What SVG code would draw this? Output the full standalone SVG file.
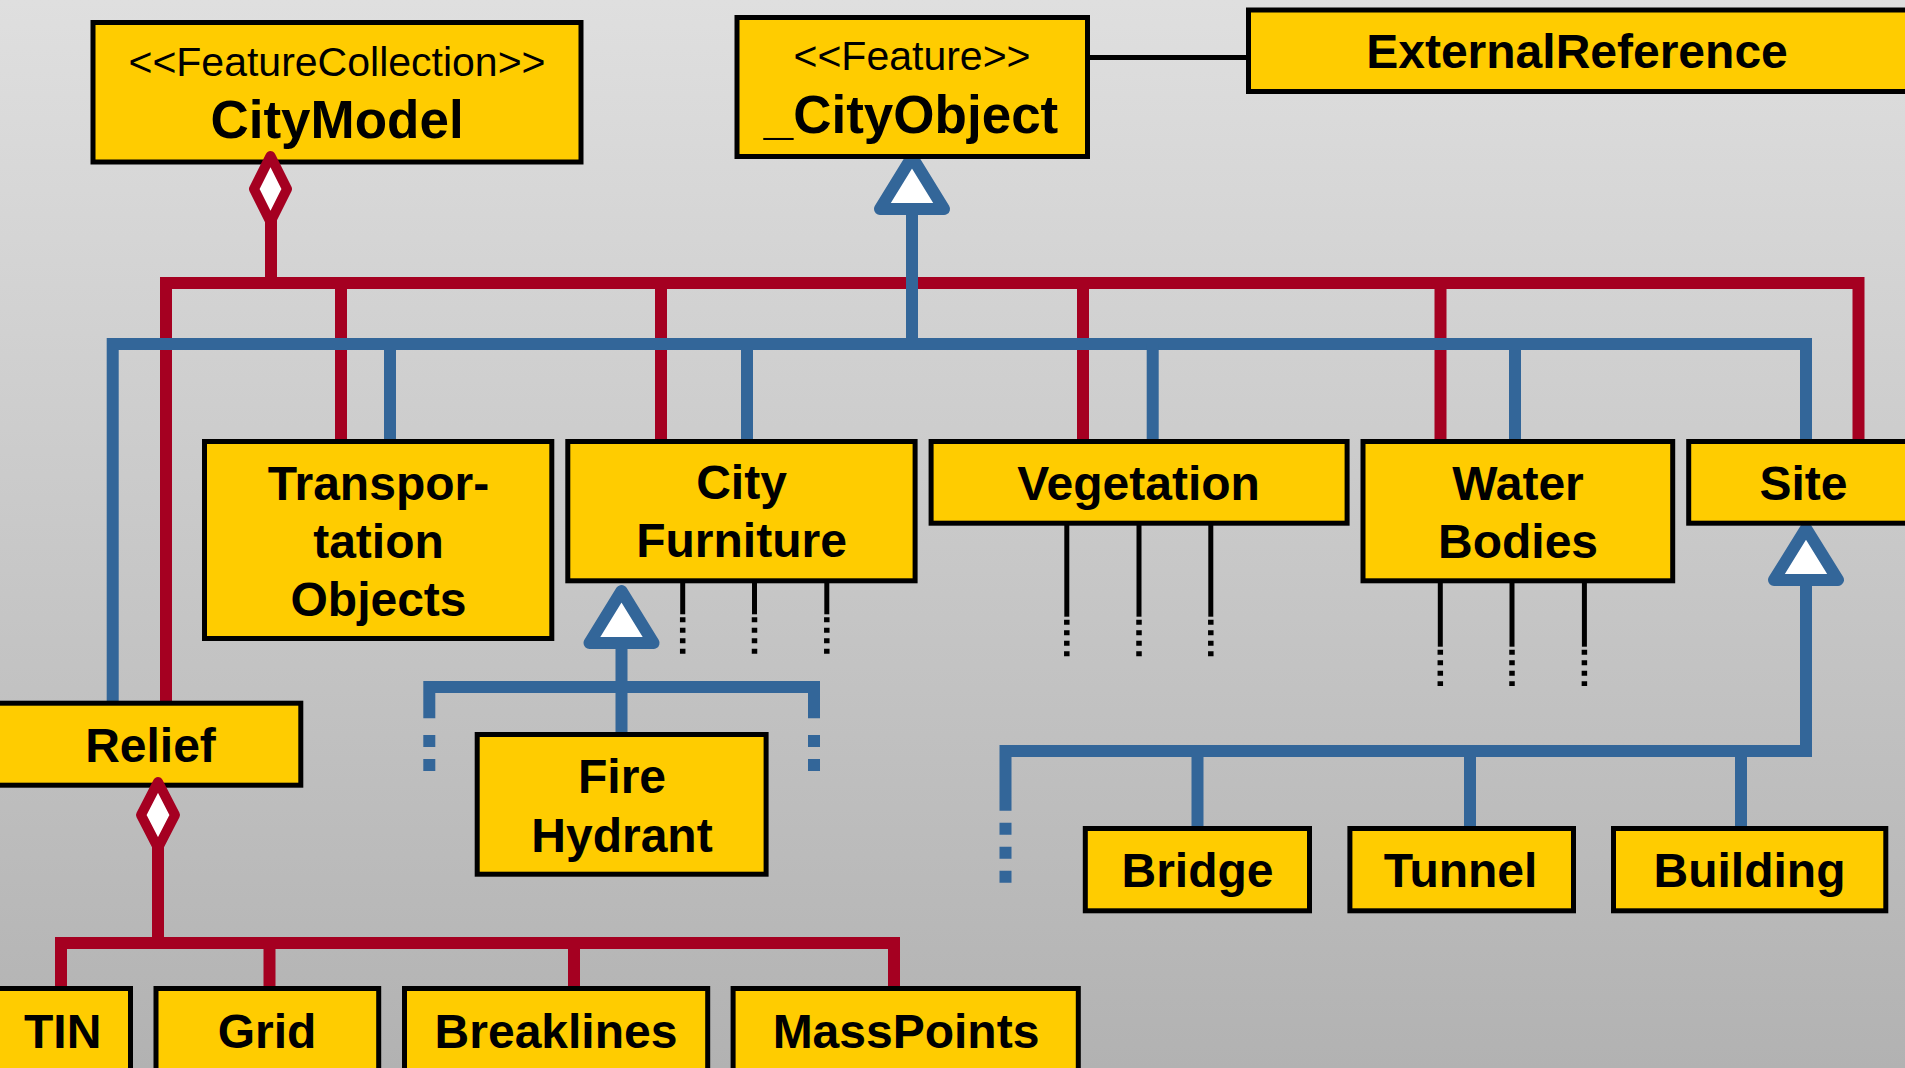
<svg xmlns="http://www.w3.org/2000/svg" width="1905" height="1068" viewBox="0 0 1905 1068">
<defs>
<linearGradient id="bg" x1="0" y1="0" x2="0" y2="1">
<stop offset="0" stop-color="#dfdfdf"/>
<stop offset="1" stop-color="#b2b2b2"/>
</linearGradient>
<style>
.box{fill:#ffcc00;stroke:#000;stroke-width:5}
.t{font-family:"Liberation Sans",Arial,sans-serif;font-weight:bold;font-size:48px;fill:#000;text-anchor:middle}
.big{font-size:53px}
.st{font-family:"Liberation Sans",Arial,sans-serif;font-weight:normal;font-size:41px;fill:#000;text-anchor:middle}
.red{stroke:#a50021;stroke-width:12;fill:none}
.blue{stroke:#336699;stroke-width:12;fill:none}
.bdash{stroke:#336699;stroke-width:12;fill:none;stroke-dasharray:12 12}
.blk{stroke:#000;stroke-width:5;fill:none}
.dot{stroke:#000;stroke-width:5.5;fill:none;stroke-dasharray:5 5.5}
.tri{fill:#fff;stroke:#336699;stroke-width:12;stroke-linejoin:round}
.dia{fill:#fff;stroke:#a50021;stroke-width:10;stroke-linejoin:round}
</style>
</defs>
<rect x="0" y="0" width="1905" height="1068" fill="url(#bg)"/>

<g id="connectors">
<!-- black association -->
<line class="blk" x1="1089" y1="57.5" x2="1248" y2="57.5"/>
<!-- red aggregation bus (CityModel) -->
<polyline class="red" points="166,703 166,283 1858.5,283 1858.5,442"/>
<line class="red" x1="271" y1="220" x2="271" y2="283"/>
<line class="red" x1="341" y1="283" x2="341" y2="442"/>
<line class="red" x1="661" y1="283" x2="661" y2="442"/>
<line class="red" x1="1083" y1="283" x2="1083" y2="442"/>
<line class="red" x1="1440.5" y1="283" x2="1440.5" y2="442"/>
<!-- blue generalization bus (_CityObject) -->
<polyline class="blue" points="112.7,703 112.7,344 1806,344 1806,442"/>
<line class="blue" x1="912" y1="205" x2="912" y2="344"/>
<line class="blue" x1="390" y1="344" x2="390" y2="442"/>
<line class="blue" x1="747" y1="344" x2="747" y2="442"/>
<line class="blue" x1="1152.7" y1="344" x2="1152.7" y2="442"/>
<line class="blue" x1="1515" y1="344" x2="1515" y2="442"/>
<polygon class="tri" points="912,157 944,209 880,209"/>
<!-- CityFurniture generalization -->
<line class="blue" x1="621.5" y1="640" x2="621.5" y2="735"/>
<polyline class="blue" points="429.3,718.3 429.3,687 814,687 814,718.3"/>
<line class="bdash" x1="429.3" y1="735" x2="429.3" y2="771"/>
<line class="bdash" x1="814" y1="735" x2="814" y2="771"/>
<polygon class="tri" points="621.5,591 653.5,643 589.5,643"/>
<!-- Site generalization -->
<polyline class="blue" points="1005.5,810.7 1005.5,751 1806,751 1806,577"/>
<line class="bdash" x1="1005.5" y1="822.7" x2="1005.5" y2="883"/>
<line class="blue" x1="1197.5" y1="751" x2="1197.5" y2="829"/>
<line class="blue" x1="1470" y1="751" x2="1470" y2="829"/>
<line class="blue" x1="1741" y1="751" x2="1741" y2="829"/>
<polygon class="tri" points="1806,528.3 1838,580 1774,580"/>
<!-- Relief aggregation -->
<line class="red" x1="158" y1="845" x2="158" y2="943"/>
<polyline class="red" points="61,989 61,943 894,943 894,989"/>
<line class="red" x1="269.5" y1="943" x2="269.5" y2="989"/>
<line class="red" x1="574" y1="943" x2="574" y2="989"/>
<!-- dotted continuation lines -->
<line class="blk" x1="682.7" y1="583" x2="682.7" y2="614.3"/>
<line class="dot" x1="682.7" y1="617.3" x2="682.7" y2="654"/>
<line class="blk" x1="754.5" y1="583" x2="754.5" y2="614.3"/>
<line class="dot" x1="754.5" y1="617.3" x2="754.5" y2="654"/>
<line class="blk" x1="826.8" y1="583" x2="826.8" y2="614.3"/>
<line class="dot" x1="826.8" y1="617.3" x2="826.8" y2="654"/>
<line class="blk" x1="1066.8" y1="525" x2="1066.8" y2="616.7"/>
<line class="dot" x1="1066.8" y1="619.7" x2="1066.8" y2="656.5"/>
<line class="blk" x1="1139" y1="525" x2="1139" y2="616.7"/>
<line class="dot" x1="1139" y1="619.7" x2="1139" y2="656.5"/>
<line class="blk" x1="1210.8" y1="525" x2="1210.8" y2="616.7"/>
<line class="dot" x1="1210.8" y1="619.7" x2="1210.8" y2="656.5"/>
<line class="blk" x1="1440.3" y1="583" x2="1440.3" y2="646.7"/>
<line class="dot" x1="1440.3" y1="649.7" x2="1440.3" y2="686"/>
<line class="blk" x1="1512" y1="583" x2="1512" y2="646.7"/>
<line class="dot" x1="1512" y1="649.7" x2="1512" y2="686"/>
<line class="blk" x1="1584.4" y1="583" x2="1584.4" y2="646.7"/>
<line class="dot" x1="1584.4" y1="649.7" x2="1584.4" y2="686"/>
</g>

<g id="CityModel">
<rect class="box" x="93" y="22.5" width="488" height="139.5"/>
<text class="st" x="337" y="76">&lt;&lt;FeatureCollection&gt;&gt;</text>
<text class="t big" x="337" y="138">CityModel</text>
</g>
<g id="CityObject">
<rect class="box" x="737" y="17.5" width="350.5" height="139"/>
<text class="st" x="912" y="70">&lt;&lt;Feature&gt;&gt;</text>
<text class="t big" x="911" y="132.5">_CityObject</text>
</g>
<g id="ExternalReference">
<rect class="box" x="1248.5" y="10" width="700" height="81.5"/>
<text class="t" x="1577" y="68">ExternalReference</text>
</g>
<g id="Transportation">
<rect class="box" x="204.5" y="441.5" width="347.3" height="197"/>
<text class="t" x="378.5" y="500">Transpor-</text>
<text class="t" x="378.5" y="558">tation</text>
<text class="t" x="378.5" y="616">Objects</text>
</g>
<g id="CityFurniture">
<rect class="box" x="567.8" y="441.5" width="347.3" height="139.3"/>
<text class="t" x="741.5" y="498.5">City</text>
<text class="t" x="741.5" y="557">Furniture</text>
</g>
<g id="Vegetation">
<rect class="box" x="931.1" y="441.5" width="416" height="81.7"/>
<text class="t" x="1138.5" y="499.5">Vegetation</text>
</g>
<g id="WaterBodies">
<rect class="box" x="1363" y="441.5" width="309.7" height="139.3"/>
<text class="t" x="1518" y="499.5">Water</text>
<text class="t" x="1518" y="557.5">Bodies</text>
</g>
<g id="Site">
<rect class="box" x="1688.7" y="441.5" width="230" height="81.7"/>
<text class="t" x="1803.5" y="499.5">Site</text>
</g>
<g id="Relief">
<rect class="box" x="-2.5" y="703.2" width="303.3" height="82"/>
<text class="t" x="150.5" y="761.5">Relief</text>
</g>
<g id="FireHydrant">
<rect class="box" x="477.2" y="734.5" width="288.9" height="139.7"/>
<text class="t" x="622" y="793">Fire</text>
<text class="t" x="622" y="851.5">Hydrant</text>
</g>
<g id="Bridge">
<rect class="box" x="1085.3" y="828.5" width="224.2" height="82.3"/>
<text class="t" x="1197.5" y="887">Bridge</text>
</g>
<g id="Tunnel">
<rect class="box" x="1349.9" y="828.5" width="223.6" height="82.3"/>
<text class="t" x="1460.5" y="887">Tunnel</text>
</g>
<g id="Building">
<rect class="box" x="1613.5" y="828.5" width="272.3" height="82.3"/>
<text class="t" x="1749.5" y="887">Building</text>
</g>
<g id="TIN">
<rect class="box" x="-5.5" y="988.5" width="136" height="100"/>
<text class="t" x="62.7" y="1048">TIN</text>
</g>
<g id="Grid">
<rect class="box" x="156" y="988.5" width="222.7" height="100"/>
<text class="t" x="267" y="1048">Grid</text>
</g>
<g id="Breaklines">
<rect class="box" x="404.5" y="988.5" width="303.2" height="100"/>
<text class="t" x="556" y="1048">Breaklines</text>
</g>
<g id="MassPoints">
<rect class="box" x="733.1" y="988.5" width="345.2" height="100"/>
<text class="t" x="906" y="1048">MassPoints</text>
</g>

<g id="aggregation-diamonds">
<polygon class="dia" points="270.5,156 287,189 270.5,222 254,189"/>
<polygon class="dia" points="158,782 175,815 158,848 141,815"/>
</g>
</svg>
